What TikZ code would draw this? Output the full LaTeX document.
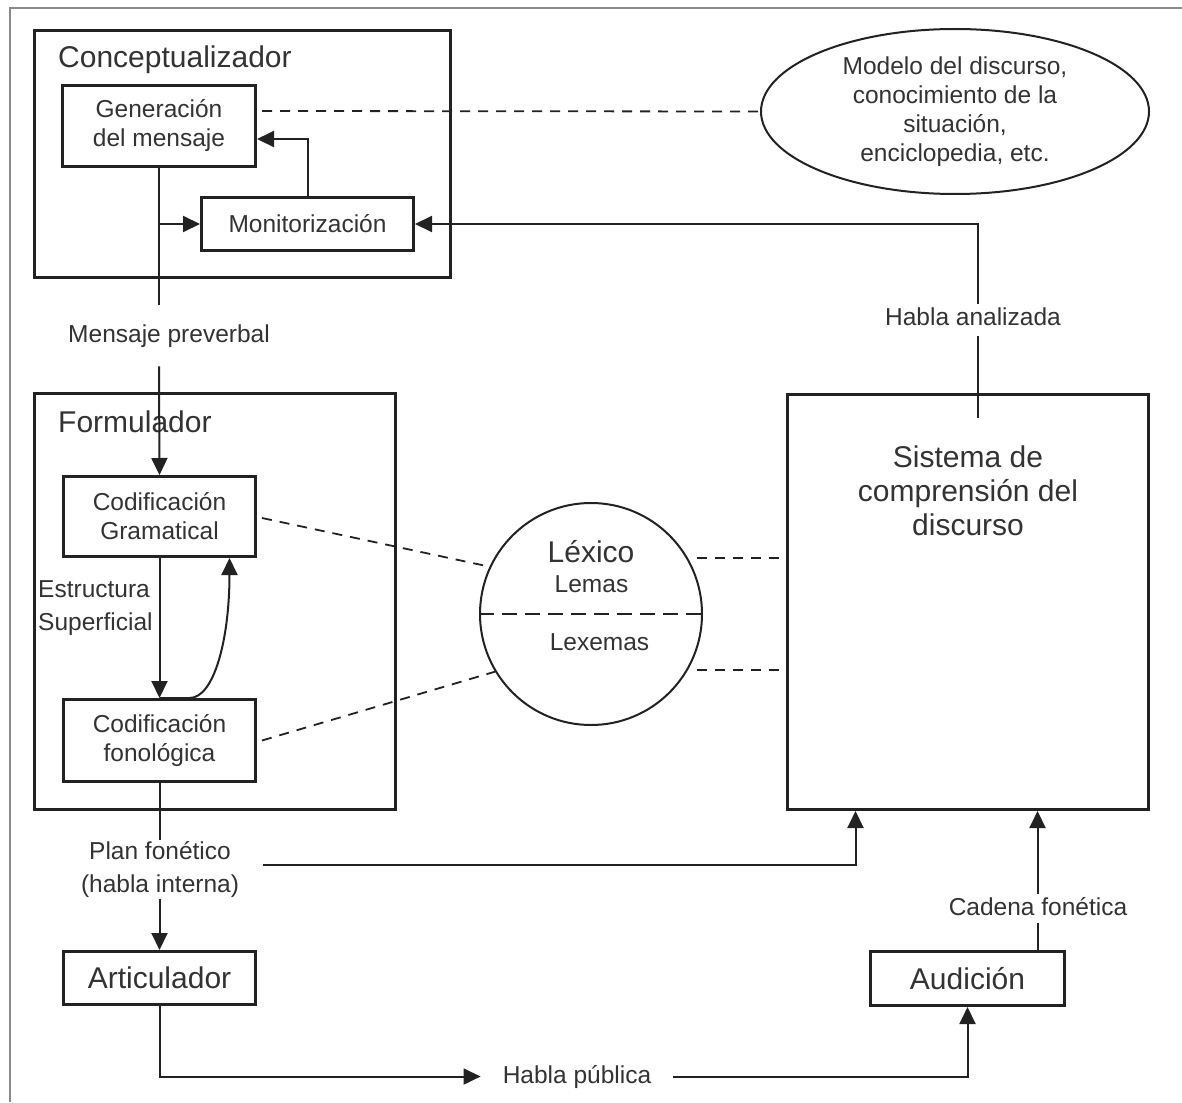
\documentclass[tikz,border=0pt]{standalone}
\usepackage{fontspec}
\setmainfont{Liberation Sans}
\usetikzlibrary{arrows.meta,calc,shapes.geometric}
\definecolor{ink}{HTML}{222222}
\definecolor{txt}{HTML}{333333}
\definecolor{framecol}{HTML}{8A8A8A}
\tikzset{
  box/.style={draw=ink, line width=3pt, rectangle, inner sep=0pt, text=txt, align=center},
  small/.style={font=\fontsize{24.5}{29}\selectfont},
  big/.style={font=\fontsize{30}{34}\selectfont},
  conn/.style={draw=ink, line width=2pt},
  arr/.style={conn, -{Triangle[length=17pt,width=16pt]}},
  dsh/.style={draw=ink, line width=1.8pt, dash pattern=on 10pt off 8pt},
  lbl/.style={text=txt, small, inner sep=0pt},
  ttl/.style={text=txt, big, inner sep=0pt},
}
\begin{document}
\begin{tikzpicture}[x=1pt,y=-1pt]
\useasboundingbox (0,0) rectangle (1182,1102);
\fill[white] (0,0) rectangle (1182,1102);
\draw[framecol, line width=1.5pt] (10,1102) -- (10,8) -- (1182,8);

% main boxes
\node[box, minimum width=416pt, minimum height=247pt] (concept) at (242.5,154) {};
\node[box, small, minimum width=193pt, minimum height=81pt] (gen) at (159,126) {Generación\\del mensaje};
\node[box, small, minimum width=212pt, minimum height=53pt] (mon) at (307.5,224) {Monitorización};
\node[box, minimum width=361pt, minimum height=416pt] (formul) at (215,601.5) {};
\node[box, small, minimum width=192pt, minimum height=80pt] (gram) at (159.5,516.5) {Codificación\\Gramatical};
\node[box, small, minimum width=192pt, minimum height=82pt] (fono) at (159.5,740.5) {Codificación\\fonológica};
\node[box, big, minimum width=192pt, minimum height=53pt] (artic) at (159.5,978) {Articulador};
\node[box, big, minimum width=194pt, minimum height=54pt] (audi) at (967.5,978.5) {Audición};
\node[box, minimum width=361pt, minimum height=415pt] (sist) at (968,602) {};
\node[draw=ink, line width=2pt, ellipse, inner sep=0pt, minimum width=388pt, minimum height=165pt,
      small, text=txt, align=center] (ell) at (955,111.5)
      {Modelo del discurso,\\conocimiento de la\\situación,\\enciclopedia, etc.};
\node[draw=ink, line width=2pt, circle, inner sep=0pt, minimum size=222pt] (lex) at (591,614) {};

% titles and texts
\node[ttl, anchor=base west] (tconc) at (58,68) {Conceptualizador};
\node[ttl, anchor=base west] (tform) at (58,432) {Formulador};
\node[ttl, anchor=base] (s1) at (968,467) {Sistema de};
\node[ttl, anchor=base] (s2) at (968,501) {comprensión del};
\node[ttl, anchor=base] (s3) at (968,535) {discurso};
\node[ttl, anchor=base] (lexi) at (591,562) {Léxico};
\node[lbl, anchor=base] (lem) at (591.5,592) {Lemas};
\node[lbl, anchor=base] (lexe) at (599.5,650) {Lexemas};
\node[lbl, anchor=base west] (es1) at (38,597) {Estructura};
\node[lbl, anchor=base west] (es2) at (38,630) {Superficial};

% lexicon divider
\draw[draw=ink, line width=2pt, dash pattern=on 15pt off 8pt] (lex.west) -- (lex.east);

% message flow
\node[lbl, anchor=base, inner ysep=19pt] (mpv) at (169,342) {Mensaje preverbal};
\draw[conn] (gen.south) -- (gen.south |- mpv.north);
\draw[arr] (gen.south |- mpv.south) -- (gram.north);
\draw[arr] (gen.south |- mon.west) -- (mon.west);
\draw[arr] (mon.north) |- ($(gen.south east)!0.345!(gen.north east)$);

% parsed speech
\coordinate (hain) at (978,418);
\node[lbl, anchor=base, inner ysep=3pt, text depth=8pt] (ha) at (973,325) {Habla analizada};
\draw[conn] (hain) -- (hain |- ha.south);
\draw[arr] (hain |- ha.north) |- (mon.east);

% dashed relations
\draw[dsh] ($(gen.east)+(5,-15)$) -- (ell.west);
\draw[dsh] ($(gram.east)+(5,1.5)$) -- (lex.155.7);
\draw[dsh] ($(fono.east)+(5,0)$) -- (lex.211.6);
\coordinate (r1) at ($(lex.30)+(9,0)$);
\coordinate (r2) at ($(lex.-30)+(9,0)$);
\draw[dsh] (r1) -- (r1 -| sist.west);
\draw[dsh] (r2) -- (r2 -| sist.west);

% formulator internal
\draw[arr] (gram.south) -- (fono.north);
\draw[arr] (fono.north) -- ++(30,0) .. controls +(25,0) and +(0,80) .. ($(gram.south)+(70,0)$);

% phonetic plan
\node[text=txt, font=\fontsize{24.5}{33}\selectfont, align=center, anchor=north, inner ysep=1pt, inner xsep=22pt] (plan) at (160,840) {Plan fonético\\(habla interna)};
\draw[conn] (fono.south) -- (fono.south |- plan.north);
\draw[arr] (fono.south |- plan.south) -- (artic.north);
\coordinate (ps) at (263,865);
\draw[arr] (ps) -| ($(sist.south west)+(69.5,0)$);

% phonetic chain
\coordinate (ca) at ($(audi.north)+(70,0)$);
\node[lbl, anchor=base, inner ysep=3pt, text depth=5pt] (cad) at (1038,915) {Cadena fonética};
\draw[conn] (ca) -- (ca |- cad.south);
\draw[arr] (ca |- cad.north) -- (ca |- sist.south);

% public speech
\node[lbl, anchor=base, inner xsep=22pt] (hp) at (577,1083) {Habla pública};
\draw[arr] (artic.south) |- (hp.west);
\draw[arr] (hp.east) -| (audi.south);
\end{tikzpicture}
\end{document}
